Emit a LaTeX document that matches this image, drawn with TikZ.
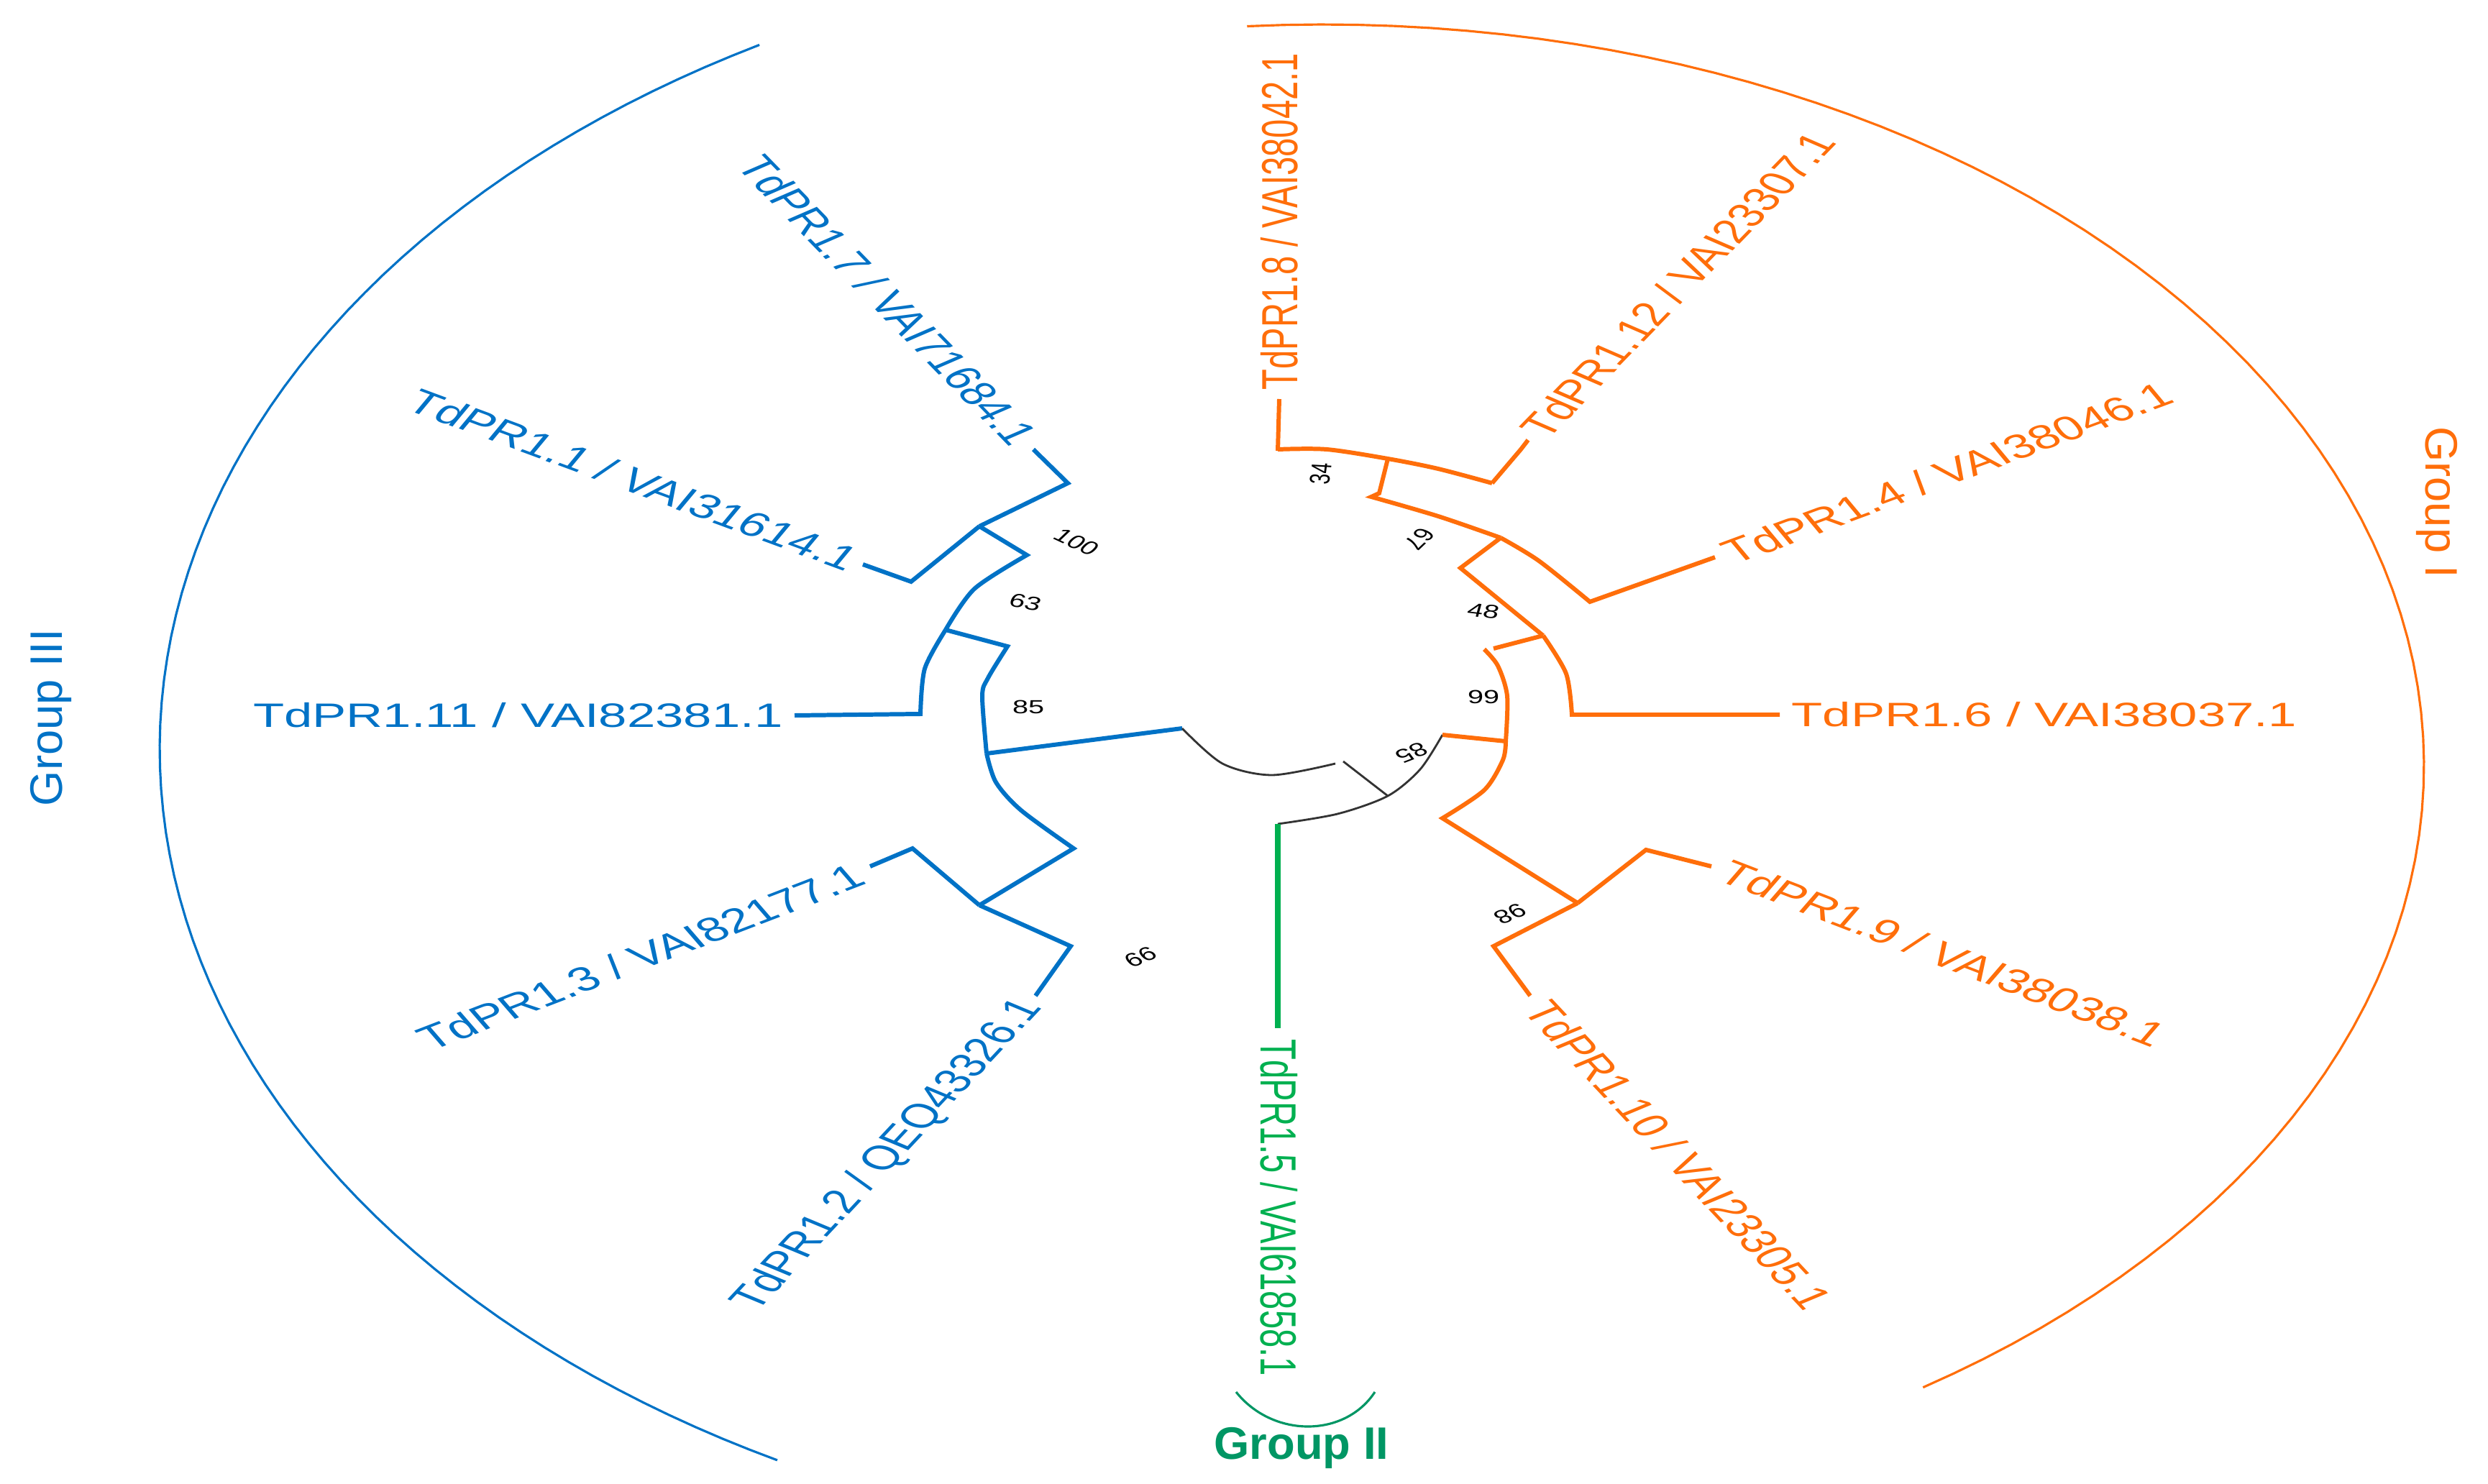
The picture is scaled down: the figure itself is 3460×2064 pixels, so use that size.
\documentclass[tikz,border=0pt]{standalone}
\usepackage{fontspec}
\setmainfont{Liberation Sans}
\definecolor{tblue}{RGB}{0,114,198}
\definecolor{torange}{RGB}{255,110,10}
\definecolor{tgreen}{RGB}{0,176,80}
\definecolor{ggreen}{RGB}{0,150,100}
\newcommand\slab[7]{\begin{scope}[shift={(#1)},xscale=1.5]\node[#2,#3,transform shape,anchor=#4,rotate=#5] (#6) at (0,0) {#7};\end{scope}}
\begin{document}
\begin{tikzpicture}[x=0.01cm,y=-0.01cm,
  br/.style={line width=1.7pt,line join=miter},
  blk/.style={line width=0.8pt,black!80},
  leaf/.style={font=\fontsize{13.4}{15}\selectfont,inner sep=2pt},
  bs/.style={font=\fontsize{7.5}{9}\selectfont,inner sep=0pt},
  grp/.style={font=\fontsize{18}{20}\selectfont}]
\useasboundingbox (0,0) rectangle (3460,2064);
% group arcs
\draw[tblue,line width=0.9pt] plot[domain=119:242,samples=80] ({1841+1619*cos(\x)},{1042-1120*sin(\x)});
\draw[torange,line width=0.9pt] plot[domain=94:-57,samples=80] ({1841+1530*cos(\x)},{1065-1031*sin(\x)});
\coordinate (ga) at (1719,1936);
\coordinate (gb) at (1912,1936);
\draw[ggreen,line width=0.9pt] (ga) .. controls (1770,2000) and (1870,2000) .. (gb);
% coordinates
\coordinate (n85) at (1372,1048);
\coordinate (n63) at (1315,876);
\coordinate (n100) at (1362,732);
\coordinate (n99) at (1362,1259);
\coordinate (rb) at (1644,1013);
\coordinate (rk) at (1930,1107);
\coordinate (rg) at (1777,1146);
\coordinate (ro) at (2006,1022);
\coordinate (o99) at (2094,1031);
\coordinate (o48) at (2146,884);
\coordinate (o67) at (2087,748);
\coordinate (o34) at (1930,638);
\coordinate (o98) at (2194,1256);
% blue
\draw[tblue,br] (rb) -- (n85);
\draw[tblue,br] plot[smooth] coordinates {(n85) (1366,968) (1374,943) (1401,899)} -- (n63);
\draw[tblue,br] plot[smooth] coordinates {(n63) (1286,930) (1280,993)} -- (1105,995);
\draw[tblue,br] plot[smooth] coordinates {(n63) (1355,819) (1428,772)} -- (n100);
\draw[tblue,br] (n100) -- (1485,672) -- (1437,625);
\draw[tblue,br] (n100) -- (1267,809) -- (1200,785);
\draw[tblue,br] plot[smooth] coordinates {(n85) (1385,1088) (1420,1127) (1493,1180)} -- (n99);
\draw[tblue,br] (n99) -- (1269,1180) -- (1210,1205);
\draw[tblue,br] (n99) -- (1489,1316) -- (1440,1385);
% black
\draw[blk] plot[smooth] coordinates {(rb) (1700,1062) (1769,1078) (1857,1062)};
\draw[blk] (1868,1059) -- (rk);
\draw[blk] plot[smooth] coordinates {(rg) (1860,1132) (rk) (1975,1070) (ro)};
% green
\draw[tgreen,line width=2.2pt] (rg) -- (1777,1430);
% orange
\draw[torange,br] (ro) -- (o99);
\draw[torange,br] plot[smooth] coordinates {(o99) (2096,968) (2083,926) (2064,903)};
\draw[torange,br] (2077,902) -- (o48);
\draw[torange,br] plot[smooth] coordinates {(o48) (2178,937) (2186,994)} -- (2475,994);
\draw[torange,br] (o48) -- (2031,790) -- (o67);
\draw[torange,br] plot[smooth] coordinates {(o67) (2000,718) (1907,691)} -- (1918,686) -- (o34);
\draw[torange,br] plot[smooth] coordinates {(1777,625) (1845,625) (o34) (2000,652) (2075,672)};
\draw[torange,br] (1777,627) -- (1779,555);
\draw[torange,br] (2075,672) -- (2115,625) -- (2125,612);
\draw[torange,br] plot[smooth] coordinates {(o67) (2140,780) (2211,837)} -- (2385,775);
\draw[torange,br] plot[smooth] coordinates {(o99) (2090,1057) (2064,1099) (2006,1138)} -- (o98);
\draw[torange,br] (o98) -- (2289,1182) -- (2380,1205);
\draw[torange,br] (o98) -- (2077,1316) -- (2128,1385);
% leaf labels
\slab{1432,620}{leaf}{tblue}{east}{-57}{l7}{TdPR1.7 / VAI71684.1}
\slab{1198,784}{leaf}{tblue}{east}{-29}{l1}{TdPR1.1 / VAI31614.1}
\slab{1100,995}{leaf}{tblue}{east}{0}{l11}{TdPR1.11 / VAI82381.1}
\slab{1205,1210}{leaf}{tblue}{east}{30}{l3}{TdPR1.3 / VAI82177.1}
\slab{1440,1388}{leaf}{tblue}{east}{58}{l2}{TdPR1.2 / QEQ43326.1}
\slab{1779,1438}{leaf}{tgreen}{west}{-90}{l5}{TdPR1.5 / VAI61858.1}
\slab{1779,550}{leaf}{torange}{west}{90}{l8}{TdPR1.8 / VAI38042.1}
\slab{2125,610}{leaf}{torange}{west}{57}{l12}{TdPR1.12 / VAI23307.1}
\slab{2390,775}{leaf}{torange}{west}{29}{l4}{TdPR1.4 / VAI38046.1}
\slab{2480,994}{leaf}{torange}{west}{0}{l6}{TdPR1.6 / VAI38037.1}
\slab{2388,1205}{leaf}{torange}{west}{-30}{l9}{TdPR1.9 / VAI38038.1}
\slab{2132,1390}{leaf}{torange}{west}{-58}{l10}{TdPR1.10 / VAI23305.1}
% bootstrap
\slab{1497,754}{bs}{black}{center}{-35}{b100}{100}
\slab{1426,838}{bs}{black}{center}{-15}{b63}{63}
\slab{1430,983}{bs}{black}{center}{0}{b85}{85}
\slab{1586,1331}{bs}{black}{center}{-150}{b99}{99}
\slab{1837,659}{bs}{black}{center}{85}{b34}{34}
\slab{1974,750}{bs}{black}{center}{-125}{b67}{67}
\slab{2063,850}{bs}{black}{center}{-10}{b48}{48}
\slab{2063,969}{bs}{black}{center}{0}{b99o}{99}
\slab{1963,1047}{bs}{black}{center}{-150}{b85k}{85}
\slab{2100,1271}{bs}{black}{center}{-150}{b98}{98}
% group labels
\node[grp,tblue,rotate=90] (g3) at (71,998) {Group III};
\node[grp,torange,rotate=-90] (g1) at (3389,699) {Group I};
\node[grp,ggreen] (g2) at (1810,2014) {\textbf{Group II}};
\end{tikzpicture}
\end{document}
